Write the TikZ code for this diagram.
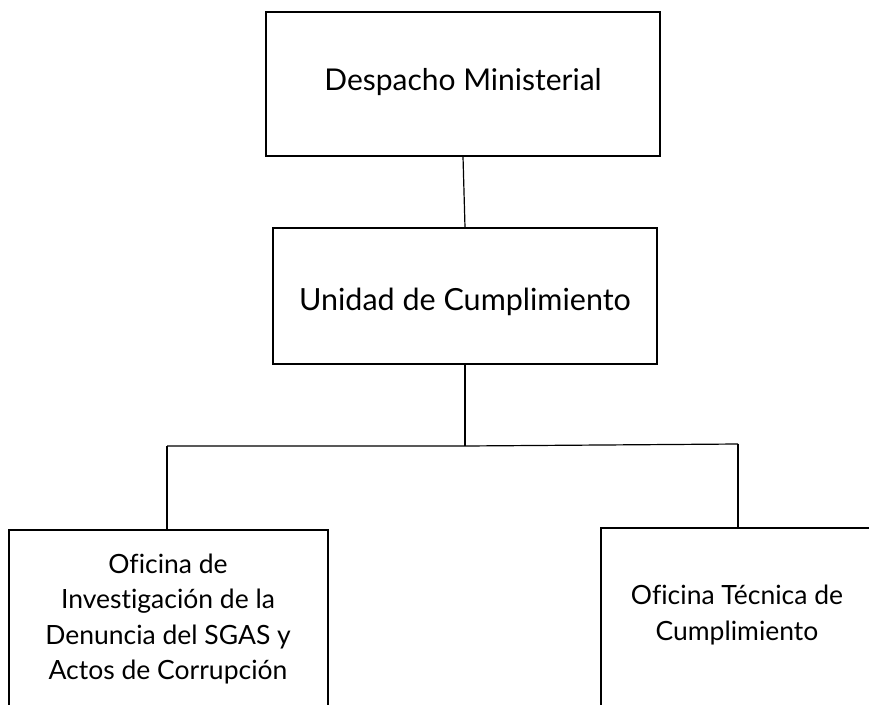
\documentclass[tikz,border=0pt]{standalone}
\usepackage{fontspec}
\setmainfont{Lato}[Ligatures=NoCommon]
\begin{document}
\begin{tikzpicture}[x=1pt,y=-1pt,
  box/.style={draw=black,line width=1.2pt,rectangle,inner sep=0pt},
  lbl/.style={align=center,font=\fontsize{26.5}{35.5}\selectfont,inner sep=0pt},
  biglbl/.style={lbl,font=\fontsize{30}{36}\selectfont},
  conn/.style={draw=black,line width=1.2pt}]
\useasboundingbox (0,0) rectangle (869,704);
\clip (0,0) rectangle (869,704);
\node[box,minimum width=394pt,minimum height=144pt] (top) at (463,84) {};
\node[biglbl] (toptxt) at (463,82) {Despacho Ministerial};
\node[box,minimum width=384pt,minimum height=136pt] (mid) at (465,296) {};
\node[biglbl,font=\fontsize{30.5}{36}\selectfont] (midtxt) at (465,302) {Unidad de Cumplimiento};
\node[box,minimum width=319pt,minimum height=200pt] (left) at (168.5,630) {};
\node[lbl] (lefttxt) at (168,619) {Oficina de\\Investigación de la\\Denuncia del SGAS y\\Actos de Corrupción};
\node[box,minimum width=279pt,minimum height=202pt] (right) at (740.5,629) {};
\node[lbl] (righttxt) at (737,615) {Oficina Técnica de\\Cumplimiento};
\coordinate (bL) at (167,446);
\coordinate (bM) at (465,446);
\coordinate (bR) at (738,444);
\draw[conn] (top.south) -- (mid.north);
\draw[conn] (mid.south) -- (bM);
\draw[conn] (bL) -- (bM) -- (bR);
\draw[conn] (bL) -- (bL |- left.north);
\draw[conn] (bR) -- (bR |- right.north);
\end{tikzpicture}
\end{document}
